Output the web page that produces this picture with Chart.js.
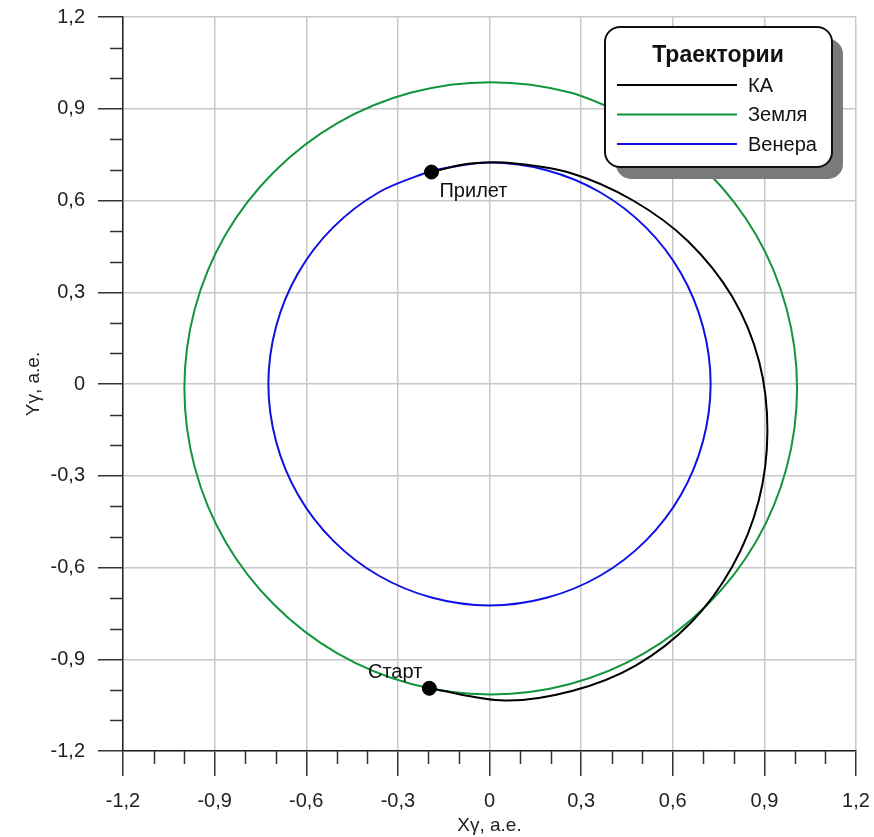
<!DOCTYPE html>
<html>
<head>
<meta charset="utf-8">
<script src="https://cdn.jsdelivr.net/npm/chart.js@4"></script>
<style>
  html, body { margin: 0; padding: 0; background: #fff; }
  canvas { display: block; }
</style>
</head>
<body>
<canvas id="orbits" width="874" height="837"></canvas>
<script>
// series names (legend order)
const seriesNames = ["КА", "Земля", "Венера"];
const seriesColors = ["#000000", "#12953c", "#1010e6"];

// spacecraft transfer path (а.е.)
const kaX = [-0.197, 0.05, 0.273, 0.48, 0.66, 0.795, 0.881, 0.91, 0.883, 0.795, 0.65, 0.47, 0.265, 0.05, -0.075, -0.19];
const kaY = [-0.995, -1.035, -1.003, -0.92, -0.78, -0.597, -0.383, -0.155, 0.073, 0.285, 0.467, 0.600, 0.69, 0.724, 0.719, 0.693];

// Earth orbit
const earthX = [0.506, 0.264, 0.004, -0.256, -0.498, -0.705, -0.865, -0.965, -0.999, -0.965, -0.865, -0.705, -0.498, -0.256, 0.004, 0.264, 0.506, 0.713, 0.873, 0.973, 1.007, 0.973, 0.873, 0.713, 0.506];
const earthY = [0.853, 0.953, 0.987, 0.953, 0.853, 0.694, 0.487, 0.245, -0.014, -0.273, -0.515, -0.722, -0.881, -0.981, -1.015, -0.981, -0.881, -0.722, -0.515, -0.273, -0.014, 0.245, 0.487, 0.694, 0.853];

// Venus orbit
const venusX = [-0.187, -0.362, -0.512, -0.627, -0.699, -0.724, -0.699, -0.627, -0.512, -0.362, -0.187, 0, 0.187, 0.362, 0.512, 0.627, 0.699, 0.724, 0.699, 0.627, 0.512, 0.362, 0.187, 0, -0.187];
const venusY = [0.699, 0.627, 0.512, 0.362, 0.187, 0, -0.187, -0.362, -0.512, -0.627, -0.699, -0.724, -0.699, -0.627, -0.512, -0.362, -0.187, 0, 0.187, 0.362, 0.512, 0.627, 0.699, 0.724, 0.699];

// start / arrival markers
const markerNames = ["Старт", "Прилет"];
const markerX = [-0.197, -0.19];
const markerY = [-0.995, 0.693];

// axis ticks
const tickLabels = ["-1,2", "-0,9", "-0,6", "-0,3", "0", "0,3", "0,6", "0,9", "1,2"];
const minorValues = [-1.1, -1.0, -0.8, -0.7, -0.5, -0.4, -0.2, -0.1, 0.1, 0.2, 0.4, 0.5, 0.7, 0.8, 1.0, 1.1];

const FONT = "'Liberation Sans', Arial, sans-serif";

function pts(xs, ys) {
  return xs.map((x, i) => ({ x: x, y: ys[i] }));
}

function curve(label, xs, ys, color) {
  return {
    label: label,
    data: pts(xs, ys),
    showLine: true,
    borderColor: color,
    backgroundColor: color,
    borderWidth: 2,
    pointRadius: 0,
    tension: 0.34,
  };
}

// little ticks between the labelled ones
const minorTicks = {
  id: "minorTicks",
  afterDraw(chart) {
    const { ctx, scales: { x, y } } = chart;
    ctx.save();
    ctx.strokeStyle = "#333";
    ctx.lineWidth = 1.5;
    ctx.beginPath();
    minorValues.forEach((v) => {
      const px = Math.round(x.getPixelForValue(v)) + 0.5;
      ctx.moveTo(px, x.top);
      ctx.lineTo(px, x.top + 13);
      const py = Math.round(y.getPixelForValue(v)) + 0.5;
      ctx.moveTo(y.right, py);
      ctx.lineTo(y.right - 13, py);
    });
    ctx.stroke();
    ctx.restore();
  },
};

// text next to the start / arrival dots
const markerText = {
  id: "markerText",
  afterDatasetsDraw(chart) {
    const { ctx, scales: { x, y } } = chart;
    ctx.save();
    ctx.font = "20px " + FONT;
    ctx.fillStyle = "#111";
    ctx.textBaseline = "alphabetic";
    const sx = x.getPixelForValue(markerX[0]), sy = y.getPixelForValue(markerY[0]);
    ctx.textAlign = "right";
    ctx.fillText(markerNames[0], sx - 7, sy - 10);
    const ax = x.getPixelForValue(markerX[1]), ay = y.getPixelForValue(markerY[1]);
    ctx.textAlign = "left";
    ctx.fillText(markerNames[1], ax + 8, ay + 25);
    ctx.restore();
  },
};

function roundBox(ctx, x, y, w, h, r) {
  ctx.beginPath();
  ctx.moveTo(x + r, y);
  ctx.lineTo(x + w - r, y);
  ctx.arcTo(x + w, y, x + w, y + r, r);
  ctx.lineTo(x + w, y + h - r);
  ctx.arcTo(x + w, y + h, x + w - r, y + h, r);
  ctx.lineTo(x + r, y + h);
  ctx.arcTo(x, y + h, x, y + h - r, r);
  ctx.lineTo(x, y + r);
  ctx.arcTo(x, y, x + r, y, r);
  ctx.closePath();
}

// boxed legend with a drop shadow, top right
const legendBox = {
  id: "legendBox",
  afterDraw(chart) {
    const ctx = chart.ctx;
    const bx = 605, by = 27, bw = 227, bh = 140;
    ctx.save();
    roundBox(ctx, bx + 11, by + 12, bw, bh, 15);
    ctx.fillStyle = "#7a7a7a";
    ctx.fill();
    roundBox(ctx, bx, by, bw, bh, 15);
    ctx.fillStyle = "#fff";
    ctx.fill();
    ctx.lineWidth = 2;
    ctx.strokeStyle = "#111";
    ctx.stroke();

    ctx.fillStyle = "#111";
    ctx.font = "bold 23px " + FONT;
    ctx.textAlign = "center";
    ctx.textBaseline = "alphabetic";
    ctx.fillText("Траектории", bx + 113, by + 35);

    ctx.font = "20px " + FONT;
    ctx.textAlign = "left";
    ctx.textBaseline = "middle";
    seriesNames.forEach((name, i) => {
      const ly = by + 58 + i * 29.5;
      ctx.strokeStyle = seriesColors[i];
      ctx.lineWidth = 2;
      ctx.beginPath();
      ctx.moveTo(bx + 12, ly);
      ctx.lineTo(bx + 132, ly);
      ctx.stroke();
      ctx.fillStyle = "#111";
      ctx.fillText(name, bx + 143, ly + 1);
    });
    ctx.restore();
  },
};

function axis(title, isX) {
  return {
    type: "linear",
    min: -1.2,
    max: 1.2,
    afterFit(scale) {
      if (isX) scale.height = 86;
      else scale.width = 123;
      // don't let the end labels push the plot area in
      scale.paddingTop = 0;
      scale.paddingBottom = 0;
      scale.paddingLeft = 0;
      scale.paddingRight = 0;
    },
    ticks: {
      stepSize: 0.3,
      padding: 13,
      color: "#222",
      font: { family: FONT, size: 20 },
      callback: (v, i) => tickLabels[i],
    },
    grid: {
      color: "#c8c8c8",
      lineWidth: 1.5,
      drawTicks: true,
      tickLength: 25,
      tickColor: "#333",
      tickWidth: 1.5,
    },
    border: { display: true, color: "#222", width: 1.5 },
    title: {
      display: true,
      text: title,
      color: "#222",
      font: { family: FONT, size: 19 },
      padding: isX ? { top: 0, bottom: 0 } : { top: 22, bottom: 0 },
    },
  };
}

const ctx = document.getElementById("orbits");

const myChart = new Chart(ctx, {
  type: "scatter",
  data: {
    datasets: [
      {
        label: "markers",
        data: pts(markerX, markerY),
        backgroundColor: "#000",
        borderColor: "#000",
        pointRadius: 7,
        pointHoverRadius: 7,
        showLine: false,
      },
      curve(seriesNames[0], kaX, kaY, seriesColors[0]),
      curve(seriesNames[1], earthX, earthY, seriesColors[1]),
      curve(seriesNames[2], venusX, venusY, seriesColors[2]),
    ],
  },
  options: {
    responsive: false,
    animation: false,
    devicePixelRatio: 1,
    layout: { padding: { left: 0, right: 18, top: 17, bottom: 0 } },
    plugins: {
      legend: { display: false },
      tooltip: { enabled: false },
    },
    scales: {
      x: axis("Xγ, а.е.", true),
      y: axis("Yγ, а.е.", false),
    },
  },
  plugins: [minorTicks, markerText, legendBox],
});
</script>
</body>
</html>
